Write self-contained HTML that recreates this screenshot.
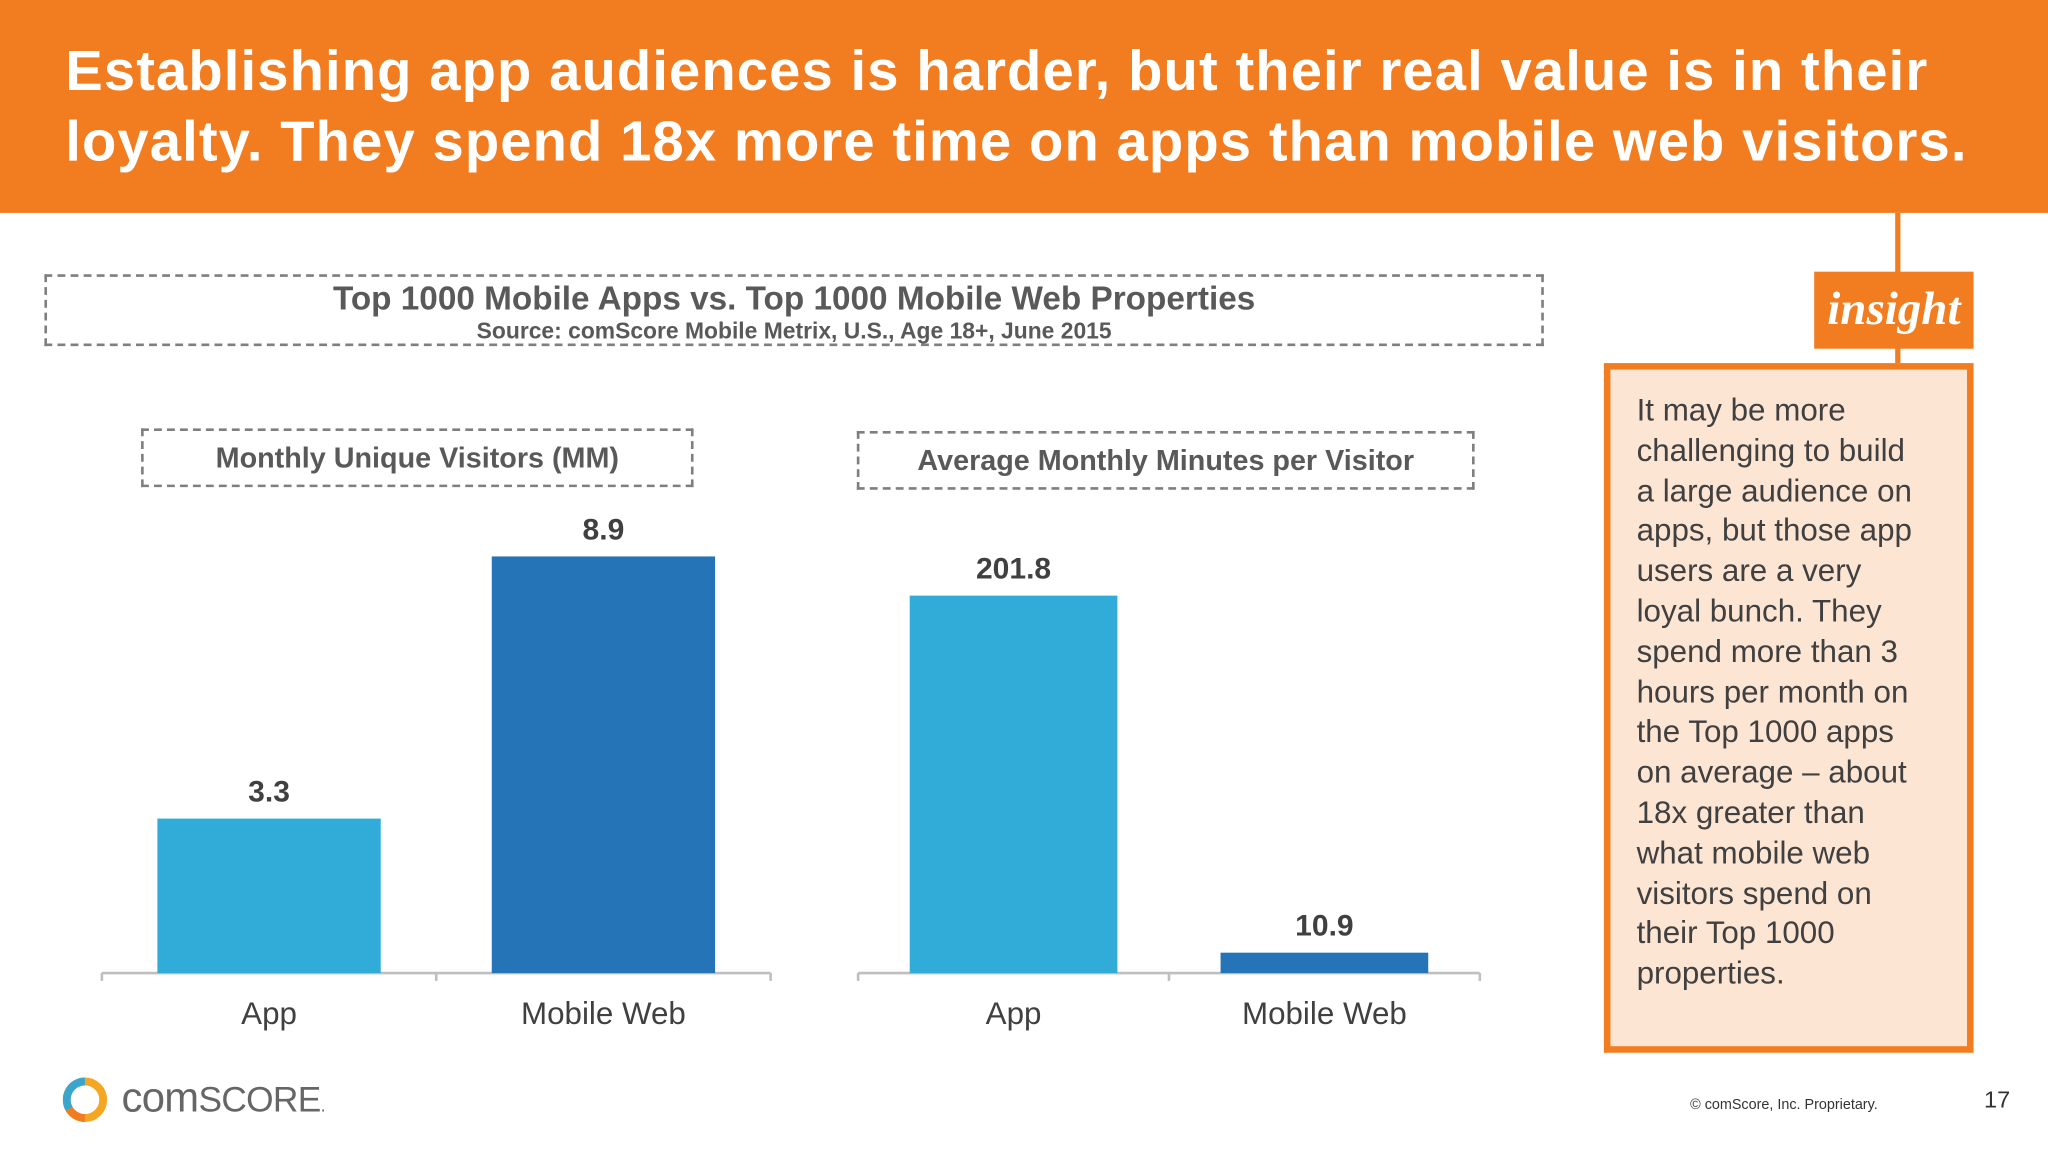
<!DOCTYPE html>
<html><head><meta charset="utf-8"><style>
html,body{margin:0;padding:0;width:2048px;height:1152px;overflow:hidden;background:#fff}
#stage{position:absolute;left:0;top:0;width:1568px;height:882px;transform:scale(1.306122);transform-origin:0 0;font-family:"Liberation Sans",sans-serif}
.abs{position:absolute}
.hdr{left:0;top:0;width:1568px;height:163px;background:#f27d21}
.hdr h1{margin:0;position:absolute;left:50px;top:28px;width:1500px;color:#fff;font-size:43px;font-weight:bold;line-height:54px;letter-spacing:0.85px}
.dash{border:2px dashed #7f7f7f;box-sizing:border-box;text-align:center;color:#595959;font-weight:bold}
</style></head><body>
<div id="stage">
<div class="abs hdr"><h1>Establishing app audiences is harder, but their real value is in their loyalty. They spend 18x more time on apps than mobile web visitors.</h1></div>
<div class="abs dash" style="left:34px;top:210px;width:1148px;height:55px">
<div style="font-size:25.5px;line-height:28px;margin-top:3px">Top 1000 Mobile Apps vs. Top 1000 Mobile Web Properties</div>
<div style="font-size:17.5px;line-height:20px">Source: comScore Mobile Metrix, U.S., Age 18+, June 2015</div></div>
<div class="abs dash" style="left:108px;top:328px;width:423px;height:45px;font-size:22px;line-height:42px">Monthly Unique Visitors (MM)</div>
<div class="abs dash" style="left:656px;top:330px;width:473px;height:45px;font-size:22px;line-height:42px">Average Monthly Minutes per Visitor</div>
<svg class="abs" style="left:0;top:0" width="1568" height="882" id="chart"></svg>
<div class="abs" style="left:1451px;top:163px;width:4px;height:118px;background:#f27d21"></div>
<div class="abs" style="left:1389px;top:208px;width:122px;height:59px;background:#f27d21;color:#fff;font-family:'Liberation Serif',serif;font-style:italic;font-weight:bold;font-size:36px;line-height:56px;text-align:center">insight</div>
<div class="abs" style="left:1228px;top:278px;width:283px;height:528px;box-sizing:border-box;border:5px solid #f27d21;background:#fde5d3;padding:17px 28px 0 20px;font-size:24px;line-height:30.8px;color:#404040">It may be more challenging to build a large audience on apps, but those app users are a very loyal bunch. They spend more than 3 hours per month on the Top 1000 apps on average – about 18x greater than what mobile web visitors spend on their Top 1000 properties.</div>
<svg class="abs" style="left:48px;top:825px" width="34" height="34">
<circle cx="17" cy="17" r="14" fill="none" stroke="#f5a623" stroke-width="6"/>
<path d="M17 3 A14 14 0 0 0 5 24" fill="none" stroke="#3aa6d0" stroke-width="6"/>
<path d="M5 24 A14 14 0 0 0 17 31" fill="none" stroke="#f27d21" stroke-width="6"/></svg>
<div class="abs" style="left:93px;top:822px;font-size:32px;color:#666;font-family:'Liberation Sans',sans-serif;letter-spacing:-0.5px">com<span style="font-size:27px">SCORE</span><span style="font-size:14px">.</span></div>
<div class="abs" style="left:1294px;top:840px;font-size:11px;color:#333">© comScore, Inc. Proprietary.</div>
<div class="abs" style="left:1519px;top:832px;font-size:18px;color:#333">17</div>
</div>
<script>
const categories=["App","Mobile Web"];
const visitors=[3.3,8.9];
const visitorLabels=["3.3","8.9"];
const minutes=[201.8,10.9];
const minuteLabels=["201.8","10.9"];
const colors=["#31acd8","#2574b8"];
const svg=document.getElementById('chart');
const NS="http://www.w3.org/2000/svg";
function el(t,a){const e=document.createElementNS(NS,t);for(const k in a)e.setAttribute(k,a[k]);svg.appendChild(e);return e;}
function panel(id,x0,x1,base,scale,vals,labels,barW){
  const y=v=>base-v*scale;
  const w=(x1-x0)/vals.length;
  const ax=el('line',{x1:x0,y1:base,x2:x1,y2:base,stroke:'#bfbfbf','stroke-width':2});
  
  
  for(let i=0;i<=vals.length;i++){const t=el('line',{x1:x0+i*w,y1:base,x2:x0+i*w,y2:base+6,stroke:'#bfbfbf','stroke-width':2});
    
    }
  vals.forEach((v,i)=>{
    const cx=x0+w*(i+0.5);
    const r=el('rect',{x:cx-barW/2,y:y(v),width:barW,height:base-y(v),fill:colors[i]});
    
    
    const l=el('text',{x:cx,y:y(v)-13,'text-anchor':'middle','font-size':23,'font-weight':'bold',fill:'#404040','font-family':'Liberation Sans'});
    l.textContent=labels[i];
    
    
    const c=el('text',{x:cx,y:base+39,'text-anchor':'middle','font-size':24,fill:'#404040','font-family':'Liberation Sans'});
    c.textContent=categories[i];
    
    
  });
}
panel('visitors',78,590,745,35.84,visitors,visitorLabels,171);
panel('minutes',657,1133,745,1.432,minutes,minuteLabels,159);
</script>
</body></html>
